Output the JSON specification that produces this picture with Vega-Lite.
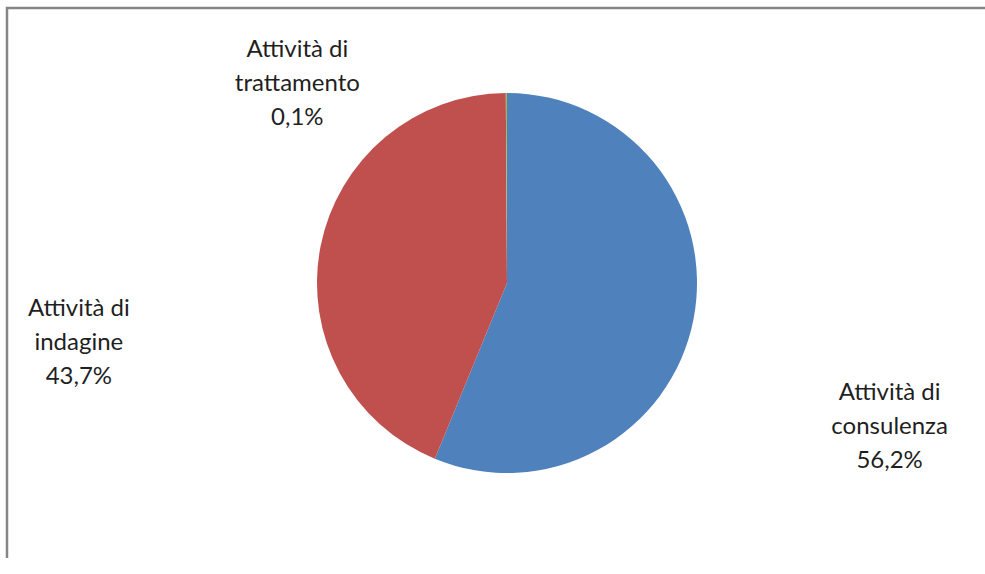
{
  "$schema": "https://vega.github.io/schema/vega-lite/v6.json",
  "autosize": "none",
  "width": 1000,
  "height": 550,
  "padding": {"left": 7, "top": 8, "right": 200, "bottom": 30},
  "background": "white",
  "view": {"stroke": "#868686", "strokeWidth": 2.5, "fill": "white", "strokeDash": [1000, 1550, 550]},
  "config": {
    "text": {"font": "Lato", "fontSize": 24, "color": "#1f1f1f", "lineBreak": "\n", "lineHeight": 34, "align": "center", "baseline": "middle"}
  },
  "data": {
    "values": [
      {"categoria": "Attività di consulenza", "valore": 56.2, "ordine": 1, "etichetta": "Attività di\nconsulenza\n56,2%"},
      {"categoria": "Attività di indagine", "valore": 43.7, "ordine": 2, "etichetta": "Attività di\nindagine\n43,7%"},
      {"categoria": "Attività di trattamento", "valore": 0.1, "ordine": 3, "etichetta": "Attività di\ntrattamento\n0,1%"}
    ]
  },
  "encoding": {
    "theta": {"field": "valore", "type": "quantitative", "stack": true},
    "order": {"field": "ordine", "type": "quantitative"}
  },
  "layer": [
    {
      "mark": {"type": "arc", "outerRadius": 190},
      "encoding": {
        "color": {
          "field": "categoria",
          "type": "nominal",
          "scale": {"domain": ["Attività di consulenza", "Attività di indagine", "Attività di trattamento"], "range": ["#4F81BD", "#C0504D", "#9BBB59"]},
          "legend": null
        }
      }
    },
    {
      "mark": {"type": "text", "radius": 390, "dx": 0, "dy": 35},
      "encoding": {
        "text": {"condition": {"test": "datum.categoria === 'Attività di consulenza'", "field": "etichetta"}, "value": ""}
      }
    },
    {
      "mark": {"type": "text", "radius": 430, "dx": -6, "dy": 108},
      "encoding": {
        "text": {"condition": {"test": "datum.categoria === 'Attività di indagine'", "field": "etichetta"}, "value": ""}
      }
    },
    {
      "mark": {"type": "text", "radius": 209, "dx": -209, "dy": -24},
      "encoding": {
        "text": {"condition": {"test": "datum.categoria === 'Attività di trattamento'", "field": "etichetta"}, "value": ""}
      }
    }
  ]
}
